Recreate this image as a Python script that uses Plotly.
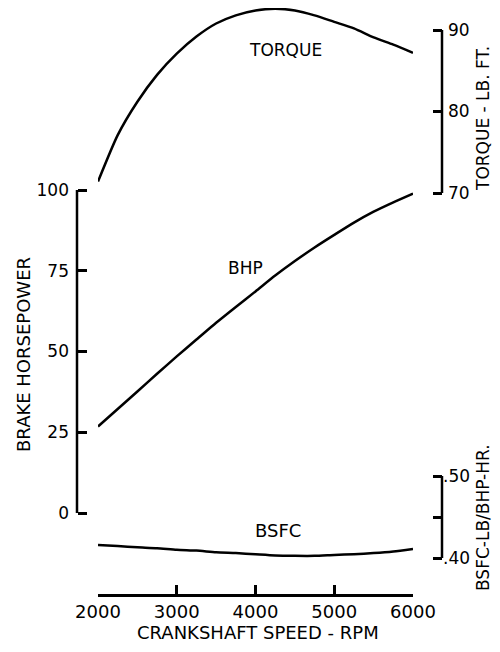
import plotly.graph_objects as go

# ---- data ----
rpm = [2000, 2250, 2500, 2750, 3000, 3250, 3500, 3750, 4000,
       4250, 4500, 4750, 5000, 5250, 5500, 5750, 6000]
torque = [71.4, 77.1, 81.2, 84.5, 87.1, 89.2, 90.8, 91.8, 92.4,
          92.6, 92.4, 91.8, 91.0, 90.2, 89.1, 88.2, 87.2]
bhp = [26.8, 32.2, 37.6, 43.1, 48.5, 53.7, 58.9, 63.8, 68.6,
       73.5, 78.0, 82.2, 86.1, 89.9, 93.3, 96.2, 98.9]
bsfc = [0.416, 0.4145, 0.413, 0.412, 0.410, 0.409, 0.407, 0.406, 0.4045,
        0.403, 0.4026, 0.4026, 0.4037, 0.4046, 0.406, 0.408, 0.411]

x_ticks = [2000, 3000, 4000, 5000, 6000]
bhp_ticks = [0, 25, 50, 75, 100]
torque_ticks = [70, 80, 90]
bsfc_ticks = [0.40, 0.45, 0.50]
bsfc_ticktext = [".40", "", ".50"]

# ---- layout geometry (screen pixels of the 500x652 window) ----
OFF = 8                      # default page margin of the html body
W, H = 500 - 2 * OFF, 652 - 2 * OFF
FONT = "DejaVu Sans"
LW = 2.5


def px(x):
    return (x - OFF) / W


def py(y):
    return 1 - (y - OFF) / H


def yrange(v_lo, p_lo, v_hi, p_hi):
    p_lo -= OFF
    p_hi -= OFF
    s = (v_hi - v_lo) / (p_lo - p_hi)
    return [v_lo - s * (H - p_lo), v_hi + s * p_hi]


fig = go.Figure()
line = dict(color="black", width=LW, shape="spline", smoothing=0.6)
fig.add_trace(go.Scatter(x=rpm, y=bhp, mode="lines", line=line,
                         yaxis="y", hoverinfo="skip", showlegend=False))
fig.add_trace(go.Scatter(x=rpm, y=torque, mode="lines", line=line,
                         yaxis="y2", hoverinfo="skip", showlegend=False))
fig.add_trace(go.Scatter(x=rpm, y=bsfc, mode="lines", line=line,
                         yaxis="y3", hoverinfo="skip", showlegend=False))

tickfont = dict(family=FONT, size=17, color="black")
common_y = dict(domain=[0, 1], showgrid=False, zeroline=False, showline=False,
                ticks="inside", ticklen=9, tickwidth=LW, tickcolor="black",
                tickfont=tickfont, fixedrange=True, automargin=False)

fig.update_layout(
    width=W, height=H,
    margin=dict(l=0, r=0, t=0, b=0, pad=0, autoexpand=False),
    paper_bgcolor="white", plot_bgcolor="white",
    showlegend=False,
    xaxis=dict(domain=[px(98), px(413)], range=[2000, 6000],
               anchor="free", position=py(595),
               showgrid=False, zeroline=False,
               showline=True, linewidth=LW, linecolor="black",
               ticks="inside", ticklen=9, tickwidth=LW, tickcolor="black",
               tickvals=x_ticks, ticktext=[str(v) for v in x_ticks],
               tickfont=dict(family=FONT, size=18, color="black"),
               ticklabelstandoff=0, fixedrange=True, automargin=False),
    yaxis=dict(**common_y, range=yrange(0, 513, 100, 190),
               anchor="free", position=px(77), side="left",
               tickvals=bhp_ticks, ticktext=[str(v) for v in bhp_ticks],
               ticklabelstandoff=8),
    yaxis2=dict(**common_y, range=yrange(70, 193, 90, 30),
                anchor="free", position=px(442), side="right",
                overlaying="y",
                tickvals=torque_ticks, ticktext=[str(v) for v in torque_ticks],
                ticklabelstandoff=5),
    yaxis3=dict(**common_y, range=yrange(0.40, 558, 0.50, 476),
                anchor="free", position=px(442), side="right",
                overlaying="y",
                tickvals=bsfc_ticks, ticktext=bsfc_ticktext,
                ticklabelstandoff=0),
)

# axis spines drawn only over the labelled spans
fig.add_shape(type="line", xref="paper", yref="y", x0=px(77), x1=px(77),
              y0=bhp_ticks[0], y1=bhp_ticks[-1], line=dict(color="black", width=LW))
fig.add_shape(type="line", xref="paper", yref="y2", x0=px(442), x1=px(442),
              y0=torque_ticks[0], y1=torque_ticks[-1], line=dict(color="black", width=LW))
fig.add_shape(type="line", xref="paper", yref="y3", x0=px(442), x1=px(442),
              y0=bsfc_ticks[0], y1=bsfc_ticks[-1], line=dict(color="black", width=LW))


def label(text, x, y, size, angle=0):
    fig.add_annotation(text=text, xref="paper", yref="paper", x=px(x), y=py(y),
                       xanchor="center", yanchor="middle", showarrow=False,
                       textangle=angle, font=dict(family=FONT, size=size, color="black"))


label("BRAKE HORSEPOWER", 23, 355, 18, -90)
label("CRANKSHAFT SPEED - RPM", 258, 632, 18)
label("TORQUE - LB. FT.", 483, 119, 17, -90)
label("BSFC-LB/BHP-HR.", 483, 518, 17, -90)
label("TORQUE", 285, 50, 17)
label("BHP", 245, 268, 17)
label("BSFC", 278, 530, 18)

fig.write_html("out.html")
